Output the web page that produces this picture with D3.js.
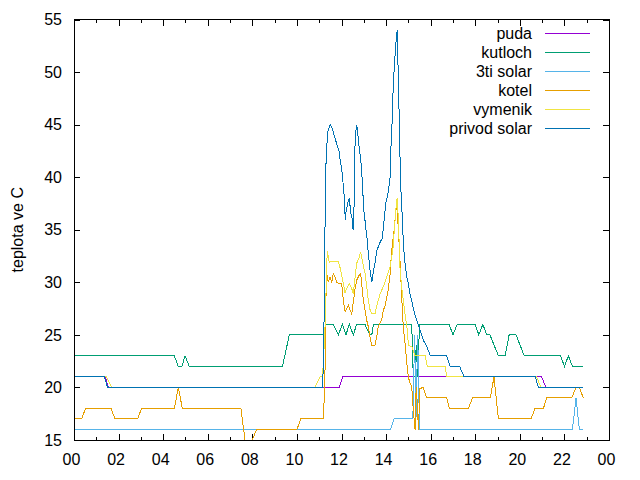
<!DOCTYPE html>
<html>
<head>
<meta charset="utf-8">
<script src="https://d3js.org/d3.v7.min.js"></script>
<style>
  body { margin: 0; background: #ffffff; }
  svg { font-family: "Liberation Sans", Arial, sans-serif; }
</style>
</head>
<body>
<svg id="drawing_region"></svg>
<script>
// hours of the day -> temperature (deg C)
const series_names = ["puda", "kutloch", "3ti solar", "kotel", "vymenik", "privod solar"];

const puda = [[0,21],[1.4,21],[1.55,20],[11.9,20],[12.05,21],[20.98,21],[21.17,20],[22.85,20]];

const kutloch = [[0,23],[4.5,23],[4.68,22],[4.84,22],[4.98,23],[5.17,22],[9.35,22],[9.66,25],[11.18,25],[11.3,26],
    [11.63,26],[11.86,25],[12.04,26],[12.2,25],[12.35,26],[12.53,25],[12.68,26],[13.05,26],[13.28,25],[13.36,25],
    [13.43,26],[15.15,26],[15.22,21],[15.3,21],[15.35,24],[15.42,21],[15.5,26],[16.83,26],[17.0,25],[17.19,26],
    [18.0,26],[18.16,25],[18.34,26],[18.52,25],[18.66,25],[19.04,23],[19.34,23],[19.52,25],[19.83,25],[20.2,23],
    [21.83,23],[22.0,22],[22.18,23],[22.36,22],[22.85,22]];

const solar3 = [[0,16],[14.2,16],[14.35,17],[15.2,17],[15.28,25],[15.34,17],[15.42,25],[15.5,16],[22.36,16],
    [22.52,19],[22.67,16],[22.85,16]];

const kotel = [[0,17],[0.34,17],[0.52,18],[1.66,18],[1.84,17],[2.85,17],[3.03,18],[4.5,18],[4.68,20],[4.86,18],
    [7.49,18],[7.67,15],[7.83,14],[8.0,15],[8.19,16],[10.0,16],[10.17,17],[11.18,17],[11.25,20],[11.32,31],
    [11.41,30],[11.48,30.5],[11.56,30],[11.63,30.8],[11.71,30.5],[11.79,30],[11.86,29.9],[12.01,29.9],[12.08,28.3],
    [12.16,27.2],[12.23,27.5],[12.31,27.8],[12.38,27.4],[12.46,27],[12.53,28.1],[12.61,29.4],[12.68,30.2],[12.8,30.7],
    [12.86,30.8],[12.98,28.3],[13.13,26.4],[13.2,25.8],[13.28,24.8],[13.36,24],[13.5,24],[13.58,24.8],[13.65,25.8],
    [13.8,26.4],[13.88,27.4],[13.95,27.7],[14.1,29.3],[14.18,30.8],[14.25,33],[14.36,35],[14.45,37],[14.5,37],
    [14.55,35],[14.63,31.8],[14.7,28.6],[14.77,25.8],[14.85,24.2],[14.93,22.3],[15.0,21],[15.07,20.4],[15.15,20.1],
    [15.22,17.9],[15.3,16],[15.35,20],[15.4,18.5],[15.45,16],[15.52,19.9],[15.67,20],[15.82,19],[16.72,19],
    [16.84,18],[17.69,18],[17.88,19],[18.68,19],[18.84,21],[19.04,17],[20.5,17],[20.68,18],[21.06,18],[21.2,19],
    [22.33,19],[22.52,20],[22.67,20],[22.85,19]];

const vymenik = [[0,21],[1.45,21],[1.7,20],[10.8,20],[11.04,21],[11.15,21],[11.25,25],[11.36,33],[11.45,31.9],
    [11.56,32],[11.86,32],[11.96,31.2],[12.05,30.2],[12.16,29],[12.23,29.4],[12.35,29.9],[12.46,29.4],[12.53,28.9],
    [12.61,30.5],[12.68,31.8],[12.8,32.4],[12.86,32.9],[12.95,31.9],[13.06,30.8],[13.13,29.6],[13.2,28.3],
    [13.28,27.4],[13.36,27],[13.5,27],[13.61,28],[13.73,28.9],[13.88,29.6],[14.03,30.5],[14.18,31.5],[14.25,32.4],
    [14.32,33.4],[14.37,35],[14.46,37.5],[14.5,38],[14.55,36],[14.63,31],[14.73,29],[14.85,27],[14.95,25.5],
    [15.0,24],[15.15,23.9],[15.3,23],[15.75,23],[15.85,22],[16.65,22],[16.72,21],[20.75,21],[20.95,20],[22.85,20]];

const privod = [[0,21],[1.36,21],[1.51,20],[11.15,20],[11.2,23],[11.28,39.2],[11.32,42.5],[11.4,44.5],[11.5,45],
    [11.56,44.8],[11.63,44.3],[11.71,43.7],[11.81,43],[11.89,42.5],[11.93,41.8],[11.99,41],[12.04,40.2],[12.08,39.2],
    [12.13,38],[12.17,35.9],[12.2,36.7],[12.29,37.6],[12.35,38],[12.41,36.7],[12.49,35.9],[12.52,35],[12.56,36.9],
    [12.61,43.4],[12.67,45],[12.71,44.6],[12.77,43.2],[12.83,42.2],[12.88,41.3],[12.92,40],[12.97,38.1],[13.01,36.7],
    [13.07,35.6],[13.11,34.8],[13.16,34],[13.2,32.8],[13.28,31.2],[13.36,30],[13.43,31],[13.5,31.8],[13.58,33],
    [13.73,33.8],[13.83,34.2],[13.88,35.3],[13.93,36.2],[13.98,37.5],[14.05,38.1],[14.1,38.6],[14.18,40],[14.22,42.9],
    [14.28,45.7],[14.32,48.6],[14.37,50.5],[14.41,51.9],[14.46,53.3],[14.5,54],[14.52,52],[14.57,47.6],[14.61,43.2],
    [14.66,39.1],[14.7,37.2],[14.75,35.3],[14.77,33.7],[14.85,31.8],[14.93,30.5],[15.0,29.9],[15.07,28.9],
    [15.15,28.3],[15.22,27.5],[15.37,26.4],[15.52,25.5],[15.67,24.5],[15.82,23.9],[15.97,23.1],[16.05,23],
    [16.72,23],[16.87,22],[17.3,22],[17.5,21],[20.7,21],[20.83,20],[22.85,20]];

const xtick_values = [0,2,4,6,8,10,12,14,16,18,20,22,24];
const xtick_labels = ["00","02","04","06","08","10","12","14","16","18","20","22","00"];
const ytick_values = [15,20,25,30,35,40,45,50,55];

var config = {
    parent: '#drawing_region',
    width: 640,
    height: 480,
    margin: { top: 19.5, right: 31, bottom: 40, left: 74 },
    colors: ["#9400d3", "#009e73", "#56b4e9", "#e69f00", "#f0e442", "#0072b2"],
    font_size: '16px',
    ylabel: "teplota ve C",
};

class LineChart {

    constructor(config, data) {
        this.config = config;
        this.data = data;
        this.init();
    }

    init() {
        let self = this;

        self.svg = d3.select(self.config.parent)
            .attr('width', self.config.width)
            .attr('height', self.config.height);

        self.inner_width = self.config.width - self.config.margin.left - self.config.margin.right;
        self.inner_height = self.config.height - self.config.margin.top - self.config.margin.bottom;

        self.chart = self.svg.append('g')
            .attr('transform', `translate(${self.config.margin.left}, ${self.config.margin.top})`);

        self.xscale = d3.scaleLinear()
            .domain([0, 24])
            .range([0, self.inner_width]);

        self.yscale = d3.scaleLinear()
            .domain([15, 55])
            .range([self.inner_height, 0]);

        self.chart.append('clipPath')
            .attr('id', 'plotclip')
            .append('rect')
            .attr('width', self.inner_width)
            .attr('height', self.inner_height);
    }

    render() {
        let self = this;
        const w = self.inner_width, h = self.inner_height;
        const fs = self.config.font_size;

        // ticks point inward, mirrored on top and right like gnuplot
        const xaxis = d3.axisBottom(self.xscale)
            .tickValues(xtick_values)
            .tickFormat((d, i) => xtick_labels[i])
            .tickSizeInner(-6).tickSizeOuter(0).tickPadding(14);
        const xminor = d3.axisBottom(self.xscale)
            .tickValues(d3.range(1, 24, 2))
            .tickFormat('').tickSizeInner(-3).tickSizeOuter(0);
        const xtop = d3.axisTop(self.xscale)
            .tickValues(xtick_values).tickFormat('')
            .tickSizeInner(-6).tickSizeOuter(0);
        const xtopminor = d3.axisTop(self.xscale)
            .tickValues(d3.range(1, 24, 2)).tickFormat('')
            .tickSizeInner(-3).tickSizeOuter(0);
        const yaxis = d3.axisLeft(self.yscale)
            .tickValues(ytick_values)
            .tickSizeInner(-6).tickSizeOuter(0).tickPadding(12);
        const yright = d3.axisRight(self.yscale)
            .tickValues(ytick_values).tickFormat('')
            .tickSizeInner(-6).tickSizeOuter(0);

        const xg = self.chart.append('g').attr('transform', `translate(0, ${h})`).call(xaxis);
        self.chart.append('g').attr('transform', `translate(0, ${h})`).call(xminor);
        self.chart.append('g').call(xtop);
        self.chart.append('g').call(xtopminor);
        self.chart.append('g').call(yaxis);
        self.chart.append('g').attr('transform', `translate(${w}, 0)`).call(yright);

        xg.selectAll('text').attr('dx', -3);
        self.chart.selectAll('.tick line')
            .attr('stroke', '#000')
            .attr('shape-rendering', 'crispEdges');
        self.chart.selectAll('.domain').remove();
        self.chart.selectAll('.tick text')
            .attr('fill', '#000')
            .attr('font-size', fs)
            .attr('font-family', '"Liberation Sans", Arial, sans-serif');

        const line = d3.line()
            .x(d => self.xscale(d[0]))
            .y(d => self.yscale(d[1]));

        self.chart.append('g')
            .attr('clip-path', 'url(#plotclip)')
            .selectAll('path')
            .data(self.data)
            .join('path')
            .attr('d', d => line(d))
            .attr('fill', 'none')
            .attr('stroke', (d, i) => self.config.colors[i])
            .attr('stroke-width', 1)
            .attr('shape-rendering', 'crispEdges');

        // border
        self.chart.append('rect')
            .attr('width', w)
            .attr('height', h)
            .attr('fill', 'none')
            .attr('stroke', '#000')
            .attr('shape-rendering', 'crispEdges');

        // legend
        const legend = self.chart.append('g')
            .attr('transform', `translate(${w - 77}, 14)`);
        series_names.forEach((name, i) => {
            legend.append('text')
                .attr('x', 0)
                .attr('y', i * 19)
                .attr('dy', '0.35em')
                .attr('text-anchor', 'end')
                .attr('font-size', fs)
                .attr('fill', '#000')
                .text(name);
            legend.append('line')
                .attr('x1', 13).attr('x2', 58)
                .attr('y1', i * 19).attr('y2', i * 19)
                .attr('stroke', self.config.colors[i])
                .attr('shape-rendering', 'crispEdges');
        });

        // ylabel
        self.svg.append('text')
            .attr('transform', `translate(17, ${self.config.margin.top + h / 2}) rotate(-90)`)
            .attr('text-anchor', 'middle')
            .attr('dy', '0.35em')
            .attr('font-size', fs)
            .attr('fill', '#000')
            .text(self.config.ylabel);
    }
}

const chart = new LineChart(config, [puda, kutloch, solar3, kotel, vymenik, privod]);
chart.render();
</script>
</body>
</html>
